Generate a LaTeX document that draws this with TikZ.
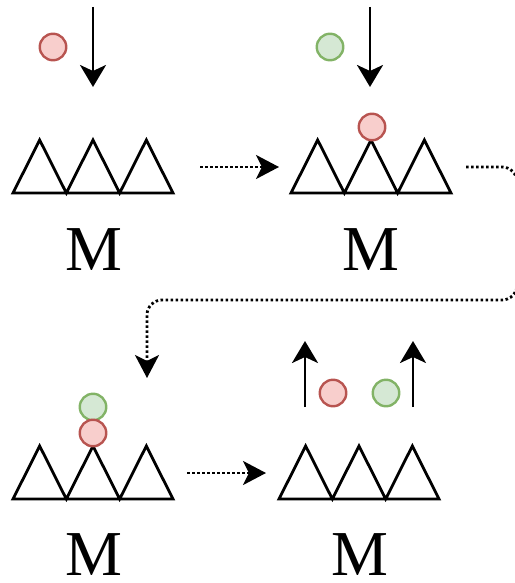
\documentclass[tikz,border=0pt]{standalone}
\usepackage{fontspec}
\setmainfont{Liberation Serif}
\usetikzlibrary{arrows.meta}
\definecolor{redfill}{HTML}{F8CECC}
\definecolor{redline}{HTML}{B85450}
\definecolor{greenfill}{HTML}{D5E8D4}
\definecolor{greenline}{HTML}{82B366}
\tikzset{
  teeth/.pic={\draw[line width=2.8pt] (0,0) -- (26.67,-53) -- (53.33,0) -- (80,-53) -- (106.67,0) -- (133.33,-53) -- (160,0) -- cycle;},
  redball/.style={circle, draw=redline, fill=redfill, line width=2.4pt, minimum size=26.5pt, inner sep=0pt},
  greenball/.style={circle, draw=greenline, fill=greenfill, line width=2.4pt, minimum size=26.5pt, inner sep=0pt},
  arr/.style={line width=2.8pt, -{Stealth[length=22pt,width=26pt,inset=6pt]}},
  dotarr/.style={line width=2.8pt, dash pattern=on 2.5pt off 2.5pt, -{Stealth[length=23pt,width=24pt,inset=6pt]}},
  mlabel/.style={inner sep=0pt, font=\fontsize{64}{70}\selectfont},
}
\begin{document}
\begin{tikzpicture}[x=1pt, y=-1pt]
\useasboundingbox (0,0) rectangle (514,583);
% panel 1
\pic at (13,193) {teeth};
\node[redball] (r1) at (53,47) {};
\coordinate (a1s) at (93,7);
\coordinate (a1e) at (93,87);
\draw[arr] (a1s) -- (a1e);
\node[mlabel] (m1) at (94,250) {M};
% panel 2
\pic at (291,193) {teeth};
\node[greenball] (g2) at (330,47) {};
\node[redball] (r2) at (372,127) {};
\coordinate (a2s) at (370,7);
\coordinate (a2e) at (370,87);
\draw[arr] (a2s) -- (a2e);
\node[mlabel] (m2) at (371,250) {M};
% panel 3
\pic at (13,499) {teeth};
\node[greenball] (g3) at (93,407) {};
\node[redball] (r3) at (93,433) {};
\node[mlabel] (m3) at (94,555) {M};
% panel 4
\pic at (279,499) {teeth};
\node[redball] (r4) at (333,393) {};
\node[greenball] (g4) at (386,393) {};
\coordinate (u1s) at (305,407);
\coordinate (u1e) at (305,341);
\coordinate (u2s) at (413,407);
\coordinate (u2e) at (413,341);
\draw[arr] (u1s) -- (u1e);
\draw[arr] (u2s) -- (u2e);
\node[mlabel] (m4) at (360,555) {M};
% dotted connectors
\coordinate (d1s) at (200,167);
\coordinate (d1e) at (279,167);
\draw[dotarr] (d1s) -- (d1e);
\coordinate (d2s) at (466,167);
\coordinate (d2e) at (147,378);
\draw[dotarr, rounded corners=15pt] (d2s) -- (517,167) -- (517,300) -- (147,300) -- (d2e);
\coordinate (d3s) at (187,473);
\coordinate (d3e) at (266,473);
\draw[dotarr] (d3s) -- (d3e);
\end{tikzpicture}
\end{document}
